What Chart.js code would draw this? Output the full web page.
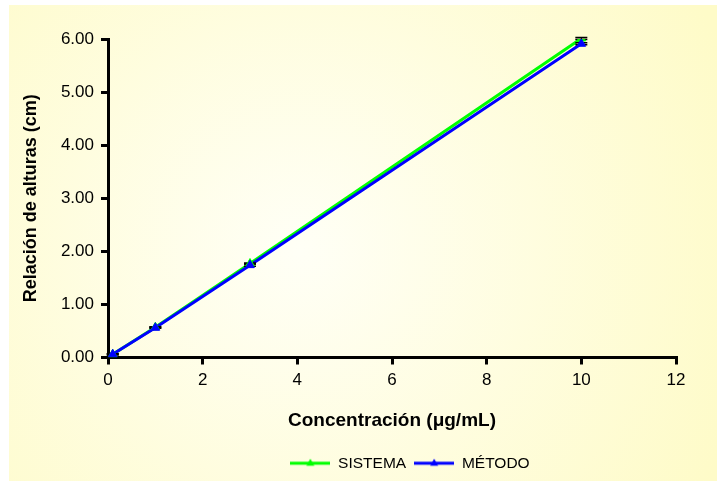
<!DOCTYPE html>
<html><head><meta charset="utf-8">
<script src="https://cdn.jsdelivr.net/npm/chart.js@4/dist/chart.umd.min.js"></script>
<style>html,body{margin:0;padding:0;background:#fff}#c{display:block}</style>
</head><body>
<canvas id="c" width="717" height="481"></canvas>
<script>
const concentrations = [0.1, 1, 3, 10];
const sistema = [0.06, 0.57, 1.77, 6.01];
const metodo = [0.06, 0.56, 1.74, 5.91];
const sistemaErr = [0.01, 0.01, 0.01, 0.02];
const metodoErr = [0.01, 0.01, 0.02, 0.02];
const seriesNames = ['SISTEMA', 'MÉTODO'];
const seriesColors = ['#00FF00', '#0000FF'];
const xTitle = 'Concentración (μg/mL)';
const yTitle = 'Relación de alturas (cm)';

const FONT = "'Liberation Sans', Arial, sans-serif";

function pts(ys) { return concentrations.map((x, i) => ({x: x, y: ys[i]})); }

function legendIcon(color) {
  const c = document.createElement('canvas');
  c.width = 40; c.height = 12;
  const g = c.getContext('2d');
  g.strokeStyle = color; g.lineWidth = 3;
  g.beginPath(); g.moveTo(0, 6); g.lineTo(40, 6); g.stroke();
  g.fillStyle = color;
  g.beginPath(); g.moveTo(20, 1.5); g.lineTo(24, 8.5); g.lineTo(16, 8.5); g.closePath(); g.fill();
  return c;
}

const bgPlugin = {
  id: 'bg',
  beforeDraw(chart) {
    const ctx = chart.ctx;
    ctx.save();
    ctx.fillStyle = '#ffffff';
    ctx.fillRect(0, 0, chart.width, chart.height);
    const g = ctx.createRadialGradient(300, 250, 0, 300, 250, 470);
    g.addColorStop(0, '#FFFFF6');
    g.addColorStop(1, '#FEFBC8');
    ctx.fillStyle = g;
    ctx.fillRect(9, 5, chart.width - 9, chart.height - 5);
    ctx.restore();
  }
};

const errPlugin = {
  id: 'errbars',
  afterDatasetDraw(chart, args) {
    if (args.index !== 1) return;
    const ctx = chart.ctx, xs = chart.scales.x, ys = chart.scales.y;
    const sets = [[sistema, sistemaErr], [metodo, metodoErr]];
    ctx.save();
    ctx.strokeStyle = '#000';
    sets.forEach(([vals, errs]) => {
      concentrations.forEach((cx, i) => {
        const px = xs.getPixelForValue(cx);
        const yt = ys.getPixelForValue(vals[i] + errs[i]);
        const yb = ys.getPixelForValue(vals[i] - errs[i]);
        ctx.lineWidth = 1;
        ctx.beginPath(); ctx.moveTo(px, yt); ctx.lineTo(px, yb); ctx.stroke();
        ctx.lineWidth = 1.5;
        ctx.beginPath();
        ctx.moveTo(px - 6, yt); ctx.lineTo(px + 6, yt);
        ctx.moveTo(px - 6, yb); ctx.lineTo(px + 6, yb);
        ctx.stroke();
      });
    });
    ctx.restore();
  }
};

const legendShift = {
  id: 'legendShift',
  afterLayout(chart) {
    const lg = chart.legend;
    if (!lg) return;
    const w = lg.right - lg.left;
    lg.left = 410 - w / 2;
    lg.right = 410 + w / 2;
  }
};

new Chart(document.getElementById('c'), {
  type: 'scatter',
  data: {
    datasets: [
      {label: seriesNames[0], data: pts(sistema), showLine: true, borderColor: seriesColors[0], borderWidth: 3, pointRadius: 0, order: 4},
      {label: seriesNames[1], data: pts(metodo), showLine: true, borderColor: seriesColors[1], borderWidth: 3, pointRadius: 0, order: 3},
      {label: seriesNames[0] + ' pts', data: pts(sistema), showLine: false, pointStyle: 'triangle', pointRadius: 5, backgroundColor: seriesColors[0], borderColor: seriesColors[0], borderWidth: 1, order: 2},
      {label: seriesNames[1] + ' pts', data: pts(metodo), showLine: false, pointStyle: 'triangle', pointRadius: 5, backgroundColor: seriesColors[1], borderColor: seriesColors[1], borderWidth: 1, order: 1}
    ]
  },
  options: {
    responsive: false,
    animation: false,
    devicePixelRatio: 1,
    layout: {padding: {left: 9, top: 39, right: 41, bottom: 0}},
    plugins: {
      tooltip: {enabled: false},
      legend: {
        position: 'bottom',
        labels: {
          usePointStyle: true,
          pointStyleWidth: 40,
          boxHeight: 12,
          padding: 8,
          color: '#000',
          font: {family: FONT, size: 15.5},
          generateLabels() {
            return [0, 1].map(i => ({
              text: seriesNames[i], pointStyle: legendIcon(seriesColors[i]),
              fillStyle: seriesColors[i], strokeStyle: seriesColors[i], lineWidth: 0,
              datasetIndex: i, hidden: false, fontColor: '#000'
            }));
          }
        }
      }
    },
    scales: {
      x: {
        type: 'linear', min: 0, max: 12,
        ticks: {stepSize: 2, color: '#000', padding: 6, font: {family: FONT, size: 17}},
        grid: {display: true, drawOnChartArea: false, drawTicks: true, tickLength: 7, color: '#000', lineWidth: 3},
        border: {display: true, color: '#000', width: 3},
        title: {display: true, text: xTitle, color: '#000', font: {family: FONT, size: 19, weight: 'bold'}, padding: {top: 0, bottom: 15}},
        afterFit(s) { s.height = 90; }
      },
      y: {
        type: 'linear', min: 0, max: 6,
        ticks: {stepSize: 1, color: '#000', padding: 7, font: {family: FONT, size: 17}, callback: v => Number(v).toFixed(2)},
        grid: {display: true, drawOnChartArea: false, drawTicks: true, tickLength: 7, color: '#000', lineWidth: 3},
        border: {display: true, color: '#000', width: 3},
        title: {display: true, text: yTitle, color: '#000', font: {family: FONT, size: 18, weight: 'bold'}, padding: {top: 11, bottom: 0}},
        afterFit(s) { s.width = 99; }
      }
    }
  },
  plugins: [bgPlugin, errPlugin, legendShift]
});
</script>
</body></html>
